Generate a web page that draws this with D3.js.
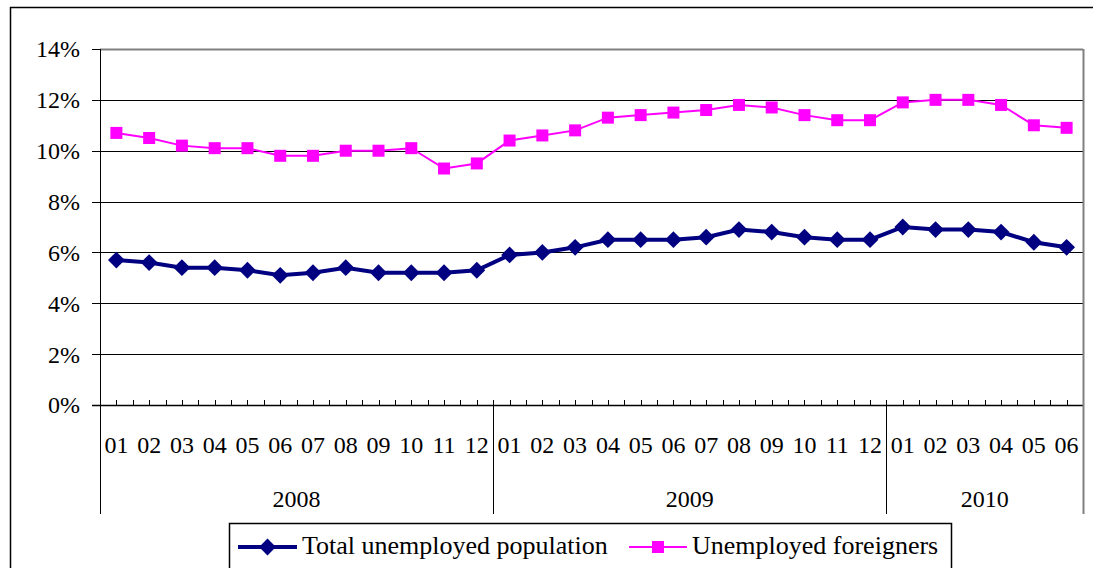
<!DOCTYPE html>
<html lang="en">
	<head>
		<meta charset="utf-8">
		<title>Unemployment rate, total vs foreigners</title>
		<script type="text/javascript" src="https://d3js.org/d3.v7.min.js"></script>
		<style type="text/css">
			body { margin: 0; background: #fff; }
			svg text { font-family: "Liberation Serif", "DejaVu Serif", serif; fill: #000; }
			.axis path, .axis line { fill: none; stroke: #000; shape-rendering: crispEdges; }
			.grid line { stroke: #000; stroke-width: 1; shape-rendering: crispEdges; }
		</style>
	</head>
	<body>
		<div id="chart"></div>
		<script type="text/javascript">

// months along the x axis, grouped by year
var months = ["01","02","03","04","05","06","07","08","09","10","11","12",
              "01","02","03","04","05","06","07","08","09","10","11","12",
              "01","02","03","04","05","06"]
var yearLabels = ["2008","2009","2010"]
var yearCounts = [12, 12, 6]

// unemployment rates in %
var totalUnemployed = [5.7,5.6,5.4,5.4,5.3,5.1,5.2,5.4,5.2,5.2,5.2,5.3,
                       5.9,6.0,6.2,6.5,6.5,6.5,6.6,6.9,6.8,6.6,6.5,6.5,
                       7.0,6.9,6.9,6.8,6.4,6.2]
var foreigners = [10.7,10.5,10.2,10.1,10.1,9.8,9.8,10.0,10.0,10.1,9.3,9.5,
                  10.4,10.6,10.8,11.3,11.4,11.5,11.6,11.8,11.7,11.4,11.2,11.2,
                  11.9,12.0,12.0,11.8,11.0,10.9]

var yTicks = [0,2,4,6,8,10,12,14]
var seriesNames = ["Total unemployed population", "Unemployed foreigners"]

var w = 1093
var h = 568
var pLeft = 100, pRight = 1083, pTop = 49, pBottom = 405
var serif = "'Liberation Serif', 'DejaVu Serif', serif"

var svg = d3.select("#chart")
    .append("svg")
    .attr("width", w)
    .attr("height", h)
    .attr("font-family", serif)

// outer chart border
svg.append("rect")
    .attr("x", 10.5).attr("y", 7.5)
    .attr("width", 1120).attr("height", 620)
    .attr("fill", "none")
    .attr("stroke", "#000")
    .attr("stroke-width", 1.5)

var xScale = d3.scaleBand()
    .domain(d3.range(months.length))
    .range([pLeft, pRight])
    .padding(0)
var bw = xScale.bandwidth()
function cx(i) { return xScale(i) + bw / 2 }

var yScale = d3.scaleLinear()
    .domain([0, 14])
    .range([pBottom, pTop])

// gridlines
svg.append("g")
    .attr("class", "grid")
    .selectAll("line")
    .data(yTicks.filter(function(d){ return d > 0 && d < 14 }))
    .enter()
    .append("line")
    .attr("x1", pLeft).attr("x2", pRight)
    .attr("y1", function(d){ return Math.round(yScale(d)) + 0.5 })
    .attr("y2", function(d){ return Math.round(yScale(d)) + 0.5 })

// plot area border (top) in gray
svg.append("line")
    .attr("x1", pLeft).attr("x2", pRight)
    .attr("y1", yScale(14) + 0.5).attr("y2", yScale(14) + 0.5)
    .attr("stroke", "#808080").attr("stroke-width", 2)

// y axis
var yAxis = d3.axisLeft(yScale)
    .tickValues(yTicks)
    .tickSize(8)
    .tickPadding(12)
    .tickFormat(function(d){ return d + "%" })

var gy = svg.append("g")
    .attr("class", "axis")
    .attr("transform", "translate(" + pLeft + ",0)")
    .call(yAxis)
    .attr("font-family", serif)
    .attr("font-size", 24)
gy.select(".domain").attr("stroke-width", 1.5)
gy.selectAll("text")
    .attr("dy", "0.33em")

// x axis: minor ticks at each half category, pointing up
var halfTicks = d3.range(1, months.length * 2).map(function(k){ return pLeft + k * bw / 2 })
svg.append("g")
    .attr("class", "axis")
    .selectAll("line")
    .data(halfTicks)
    .enter()
    .append("line")
    .attr("x1", function(d){ return Math.round(d) + 0.5 })
    .attr("x2", function(d){ return Math.round(d) + 0.5 })
    .attr("y1", pBottom - 5)
    .attr("y2", pBottom)

svg.append("line")
    .attr("x1", pLeft - 8).attr("x2", pRight)
    .attr("y1", pBottom + 0.5).attr("y2", pBottom + 0.5)
    .attr("stroke", "#000").attr("stroke-width", 1.5)

// month labels
svg.append("g")
    .selectAll("text")
    .data(months)
    .enter()
    .append("text")
    .attr("x", function(d, i){ return cx(i) })
    .attr("y", 453)
    .attr("text-anchor", "middle")
    .attr("font-size", 24)
    .text(function(d){ return d })

// year group separators and labels
var starts = [0]
yearCounts.forEach(function(n, i){ starts.push(starts[i] + n) })
svg.append("g")
    .selectAll("line")
    .data(starts)
    .enter()
    .append("line")
    .attr("x1", function(d){ return Math.round(pLeft + d * bw) + 0.5 })
    .attr("x2", function(d){ return Math.round(pLeft + d * bw) + 0.5 })
    .attr("y1", function(d, i){ return i == starts.length - 1 ? pTop : pBottom })
    .attr("y2", 514)
    .attr("stroke", function(d, i){ return i == starts.length - 1 ? "#808080" : "#000" })
    .attr("stroke-width", function(d, i){ return i == starts.length - 1 ? 2 : 1 })

svg.append("g")
    .selectAll("text")
    .data(yearLabels)
    .enter()
    .append("text")
    .attr("x", function(d, i){ return pLeft + (starts[i] + yearCounts[i] / 2) * bw })
    .attr("y", 507)
    .attr("text-anchor", "middle")
    .attr("font-size", 24)
    .text(function(d){ return d })

// lines
var line = d3.line()
    .x(function(d, i){ return cx(i) })
    .y(function(d){ return yScale(d) })

svg.append("path")
    .datum(foreigners)
    .attr("d", line)
    .attr("fill", "none")
    .attr("stroke", "#FF00FF")
    .attr("stroke-width", 2)

svg.append("g")
    .selectAll("rect")
    .data(foreigners)
    .enter()
    .append("rect")
    .attr("x", function(d, i){ return cx(i) - 6 })
    .attr("y", function(d){ return yScale(d) - 6 })
    .attr("width", 12).attr("height", 12)
    .attr("fill", "#FF00FF")

svg.append("path")
    .datum(totalUnemployed)
    .attr("d", line)
    .attr("fill", "none")
    .attr("stroke", "#000080")
    .attr("stroke-width", 4)

var diamond = d3.symbol().type(d3.symbolDiamond2).size(180)
svg.append("g")
    .selectAll("path")
    .data(totalUnemployed)
    .enter()
    .append("path")
    .attr("d", diamond)
    .attr("transform", function(d, i){ return "translate(" + cx(i) + "," + yScale(d) + ")" })
    .attr("fill", "#000080")

// legend
var legend = svg.append("g")
legend.append("rect")
    .attr("x", 229.5).attr("y", 523.5)
    .attr("width", 722).attr("height", 60)
    .attr("fill", "#fff")
    .attr("stroke", "#000")
    .attr("stroke-width", 1.5)

legend.append("line")
    .attr("x1", 238).attr("x2", 297).attr("y1", 547).attr("y2", 547)
    .attr("stroke", "#000080").attr("stroke-width", 4)
legend.append("path")
    .attr("d", diamond)
    .attr("transform", "translate(267.5,547)")
    .attr("fill", "#000080")
legend.append("text")
    .attr("x", 302).attr("y", 554)
    .attr("font-size", 26)
    .text(seriesNames[0])

legend.append("line")
    .attr("x1", 629).attr("x2", 687).attr("y1", 547).attr("y2", 547)
    .attr("stroke", "#FF00FF").attr("stroke-width", 2)
legend.append("rect")
    .attr("x", 652).attr("y", 541)
    .attr("width", 12).attr("height", 12)
    .attr("fill", "#FF00FF")
legend.append("text")
    .attr("x", 692).attr("y", 554)
    .attr("font-size", 26)
    .text(seriesNames[1])

		</script>
	</body>
</html>
